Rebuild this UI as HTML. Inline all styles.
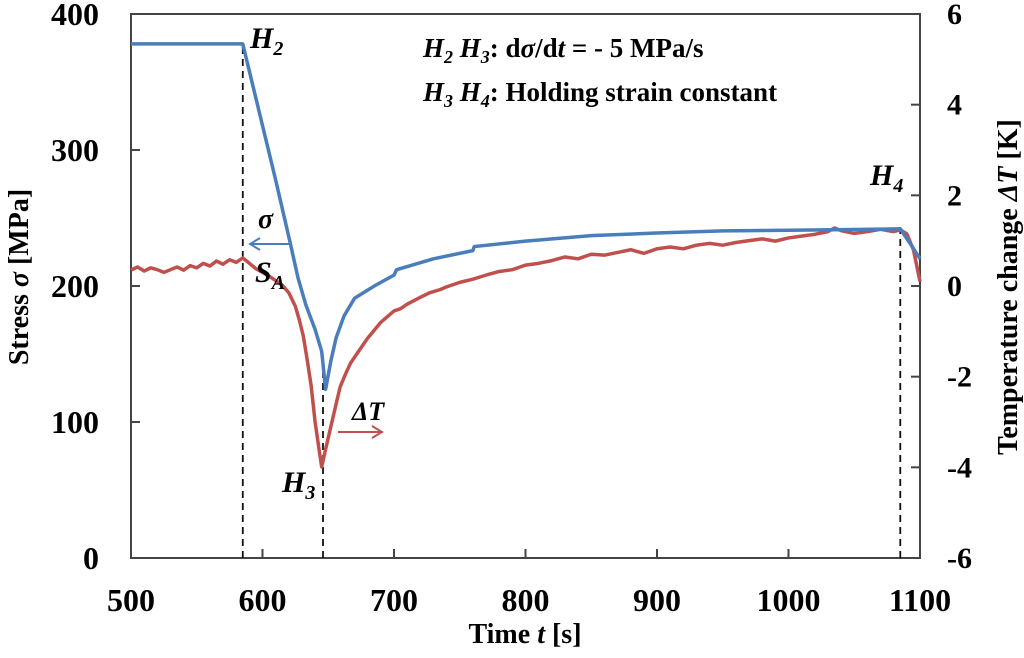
<!DOCTYPE html>
<html><head><meta charset="utf-8"><style>
body{margin:0;background:#fff}
svg text{font-family:"Liberation Serif",serif;font-weight:bold}
</style></head><body>
<svg width="1024" height="653" viewBox="0 0 1024 653" id="c">
</svg>
<script>
const xTicks=[500,600,700,800,900,1000,1100];
const yLeftTicks=[0,100,200,300,400];
const yRightTicks=[-6,-4,-2,0,2,4,6];
const stressT=[500,584,585,600,610,621,627,633,640,645,648,652,656,662,670,685,700,702,730,760,761,800,850,900,950,1000,1050,1085,1092,1100];
const stressV=[378,378,378,318,278,232,206,186,168,152,124,145,162,178,191,200,208,212,220,226,229,233,237,239,240.5,241,241.5,242,232,220];
const tempT=[500,505,510,515,520,525,530,535,540,545,550,555,560,565,570,575,580,585,590,595,600,605,610,615,620,625,628,631,634,637,640,643,645,648,652,656,659,663,667,674,680,690,700,705,710,720,727,735,740,750,760,770,780,790,800,810,820,830,840,850,860,870,880,890,900,910,920,930,940,950,960,970,980,990,1000,1010,1020,1030,1035,1040,1050,1060,1070,1080,1085,1090,1095,1100];
const tempV=[0.35,0.42,0.33,0.4,0.36,0.3,0.36,0.42,0.35,0.45,0.4,0.5,0.44,0.55,0.48,0.58,0.52,0.62,0.5,0.38,0.3,0.22,0.12,0.02,-0.15,-0.45,-0.75,-1.1,-1.63,-2.2,-3.0,-3.6,-3.99,-3.6,-3.1,-2.6,-2.23,-1.95,-1.7,-1.4,-1.15,-0.8,-0.55,-0.5,-0.4,-0.25,-0.15,-0.08,-0.02,0.08,0.15,0.24,0.32,0.36,0.46,0.5,0.56,0.64,0.6,0.7,0.68,0.74,0.8,0.72,0.82,0.86,0.82,0.9,0.94,0.9,0.96,1.0,1.04,0.99,1.06,1.1,1.14,1.2,1.28,1.22,1.16,1.2,1.25,1.2,1.24,1.15,0.8,0.1];
const NS="http://www.w3.org/2000/svg";
const svg=document.getElementById('c');
const L=131,R=920,T=14,B=558;
const X=t=>L+(t-500)/600*(R-L);
const YL=v=>B-v/400*(B-T);
const YR=v=>B-(v+6)/12*(B-T);
function mk(tag,a,txt){const e=document.createElementNS(NS,tag);for(const k in a)e.setAttribute(k,a[k]);if(txt!==undefined)e.innerHTML=txt;svg.appendChild(e);return e;}
let e;
e=mk('rect',{x:L,y:T,width:R-L,height:B-T,fill:'none',stroke:'#444','stroke-width':2});


xTicks.forEach(t=>{e=mk('line',{x1:X(t),x2:X(t),y1:B,y2:B-9,stroke:'#444','stroke-width':2});


e=mk('text',{x:X(t),y:611,'font-size':32,'text-anchor':'middle'},t);

});
yLeftTicks.forEach(v=>{e=mk('line',{x1:L,x2:L+9,y1:YL(v),y2:YL(v),stroke:'#444','stroke-width':2});


e=mk('text',{x:99,y:YL(v)+11,'font-size':32,'text-anchor':'end'},v);

});
yRightTicks.forEach(v=>{e=mk('line',{x1:R,x2:R-9,y1:YR(v),y2:YR(v),stroke:'#444','stroke-width':2});


e=mk('text',{x:R+27,y:YR(v)+10,'font-size':30,'text-anchor':'start'},v);

});
[585,646,1085].forEach(t=>{e=mk('line',{x1:X(t),x2:X(t),y1:B,y2:t==585?YL(378):t==646?YL(150):YL(244),stroke:'#111','stroke-width':1.8,'stroke-dasharray':'7,5'});

});
e=mk('path',{d:tempT.map((t,i)=>(i?'L':'M')+X(t)+','+YR(tempV[i])).join(''),fill:'none',stroke:'#c0504d','stroke-width':3.5,'stroke-linejoin':'round'});


e=mk('path',{d:stressT.map((t,i)=>(i?'L':'M')+X(t)+','+YL(stressV[i])).join(''),fill:'none',stroke:'#4a7ebb','stroke-width':3.5,'stroke-linejoin':'round'});


e=mk('path',{d:'M290,244 L250,244 M260,238 L250,244 L260,250',fill:'none',stroke:'#4a7ebb','stroke-width':2});


e=mk('path',{d:'M338,432 L382,432 M372,426 L382,432 L372,438',fill:'none',stroke:'#c0504d','stroke-width':2});


const labels=[[250,48,30,'<tspan font-style="italic">H</tspan><tspan font-size="20" dy="7" font-style="italic">2</tspan>','label-h2'],
[258,228,28,'<tspan font-style="italic">σ</tspan>','label-sigma'],
[255,282,30,'<tspan font-style="italic">S</tspan><tspan font-size="20" dy="7" font-style="italic">A</tspan>','label-sa'],
[352,420,26,'<tspan font-style="italic">ΔT</tspan>','label-delta-t'],
[282,492,30,'<tspan font-style="italic">H</tspan><tspan font-size="20" dy="7" font-style="italic">3</tspan>','label-h3'],
[870,185,30,'<tspan font-style="italic">H</tspan><tspan font-size="20" dy="7" font-style="italic">4</tspan>','label-h4'],
[423,57,27,'<tspan font-style="italic">H</tspan><tspan font-size="18" dy="6" font-style="italic">2</tspan><tspan dy="-6"> </tspan><tspan font-style="italic">H</tspan><tspan font-size="18" dy="6" font-style="italic">3</tspan><tspan dy="-6">: d</tspan><tspan font-style="italic">σ</tspan>/d<tspan font-style="italic">t</tspan> = - 5 MPa/s','annotation-rate'],
[423,101,27,'<tspan font-style="italic">H</tspan><tspan font-size="18" dy="6" font-style="italic">3</tspan><tspan dy="-6"> </tspan><tspan font-style="italic">H</tspan><tspan font-size="18" dy="6" font-style="italic">4</tspan><tspan dy="-6">: Holding strain constant</tspan>','annotation-hold']];
labels.forEach(l=>{e=mk('text',{x:l[0],y:l[1],'font-size':l[2]},l[3]);

});
e=mk('text',{x:525,y:643,'font-size':28,'text-anchor':'middle'},'Time <tspan font-style="italic">t</tspan> [s]');


e=mk('text',{x:0,y:0,'font-size':28,'text-anchor':'middle',transform:'translate(28,277) rotate(-90)'},'Stress <tspan font-style="italic">σ</tspan> [MPa]');


e=mk('text',{x:0,y:0,'font-size':28,'text-anchor':'middle',transform:'translate(1017,287) rotate(-90)'},'Temperature change <tspan font-style="italic">ΔT</tspan> [K]');


</script>
</body></html>
